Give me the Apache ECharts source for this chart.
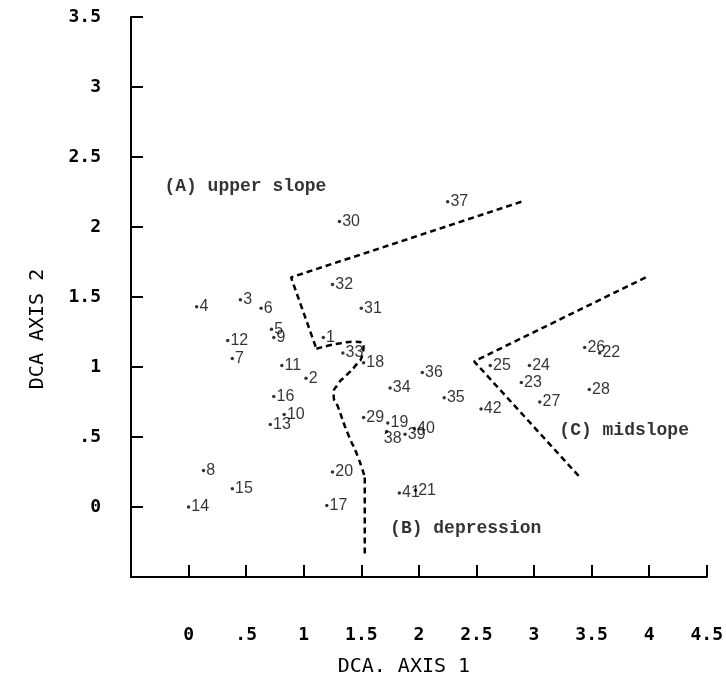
<!DOCTYPE html>
<html>
<head>
<meta charset="utf-8">
<script src="https://cdn.jsdelivr.net/npm/echarts@6/dist/echarts.min.js"></script>
<style>
html, body { margin: 0; padding: 0; background: #fff; }
#chart { width: 726px; height: 686px; }
</style>
</head>
<body>
<div id="chart"></div>
<script>
// site numbers and their DCA scores
var sites = ['1', '2', '3', '4', '5', '6', '7', '8', '9', '10',
    '11', '12', '13', '14', '15', '16', '17', '18', '19', '20',
    '21', '22', '23', '24', '25', '26', '27', '28', '29', '30',
    '31', '32', '33', '34', '35', '36', '37', '38', '39', '40',
    '41', '42'];
var axis1 = [1.17, 1.02, 0.45, 0.07, 0.72, 0.63, 0.38, 0.13, 0.74, 0.83,
    0.81, 0.34, 0.71, 0.00, 0.38, 0.74, 1.20, 1.52, 1.73, 1.25,
    1.97, 3.57, 2.89, 2.96, 2.62, 3.44, 3.05, 3.48, 1.52, 1.31,
    1.50, 1.25, 1.34, 1.75, 2.22, 2.03, 2.25, 1.72, 1.88, 1.96,
    1.83, 2.54];
var axis2 = [1.21, 0.92, 1.48, 1.43, 1.27, 1.42, 1.06, 0.26, 1.21, 0.66,
    1.01, 1.19, 0.59, 0.00, 0.13, 0.79, 0.01, 1.03, 0.60, 0.25,
    0.12, 1.10, 0.89, 1.01, 1.01, 1.14, 0.75, 0.84, 0.64, 2.04,
    1.42, 1.59, 1.10, 0.85, 0.78, 0.96, 2.18, 0.54, 0.52, 0.56,
    0.10, 0.70];

var xTickLabels = ['0', '.5', '1', '1.5', '2', '2.5', '3', '3.5', '4', '4.5'];
var yTickLabels = ['0', '.5', '1', '1.5', '2', '2.5', '3', '3.5'];

// boundaries between the groups (axis units)
var boundaryABupper = [[2.89, 2.18], [0.89, 1.64], [1.11, 1.13]];
var boundaryABcurve = [[1.11, 1.13], [1.20, 1.15], [1.32, 1.17], [1.44, 1.18], [1.52, 1.15],
    [1.51, 1.09], [1.45, 1.01], [1.37, 0.94], [1.30, 0.88], [1.26, 0.80],
    [1.30, 0.71], [1.38, 0.53], [1.47, 0.36], [1.53, 0.21]];
var boundaryABlower = [[1.53, 0.21], [1.53, -0.34]];
var boundaryC = [[3.97, 1.64], [2.48, 1.04], [3.39, 0.22]];

var regionNames = ['(A) upper slope', '(B) depression', '(C) midslope'];
var regionX = [-0.21, 1.75, 3.22];
var regionY = [2.29, -0.15, 0.55];

var points = [];
for (var i = 0; i < sites.length; i++) {
    var p = { name: sites[i], value: [axis1[i], axis2[i]] };
    if (sites[i] == '38') {
        p.label = { position: 'bottom', distance: -3, offset: [6, 0] };
    }
    points.push(p);
}

var regions = [];
for (var j = 0; j < regionNames.length; j++) {
    regions.push({ name: regionNames[j], value: [regionX[j], regionY[j]] });
}

function tickText(list) {
    return function (v) {
        if (v < 0) return '';
        var k = Math.round(v / 0.5);
        return list[k] || '';
    };
}

var dashStyle = { color: '#000', width: 2.5, type: [6, 4] };

function boundary(data, smooth) {
    return {
        type: 'line',
        data: data,
        smooth: smooth,
        symbol: 'none',
        silent: true,
        lineStyle: dashStyle,
        z: 1
    };
}

var axisFont = { color: '#000', fontFamily: 'DejaVu Sans Mono', fontSize: 18, fontWeight: 'bold' };

var option = {
    animation: false,
    backgroundColor: '#fff',
    grid: { left: 131, right: 15, top: 17, bottom: 109 },
    xAxis: {
        type: 'value',
        min: -0.5,
        max: 4.5,
        interval: 0.5,
        splitLine: { show: false },
        axisLine: { onZero: false, lineStyle: { color: '#000', width: 2 } },
        axisTick: { inside: true, length: 12, lineStyle: { color: '#000', width: 2 } },
        axisLabel: Object.assign({ margin: 49, formatter: tickText(xTickLabels) }, axisFont),
        name: 'DCA. AXIS 1',
        nameLocation: 'middle',
        nameGap: 80,
        nameTextStyle: { color: '#000', fontFamily: 'DejaVu Sans Mono', fontSize: 20, padding: [0, 30, 0, 0] }
    },
    yAxis: {
        type: 'value',
        min: -0.5,
        max: 3.5,
        interval: 0.5,
        splitLine: { show: false },
        axisLine: { onZero: false, lineStyle: { color: '#000', width: 2 } },
        axisTick: { inside: true, length: 12, lineStyle: { color: '#000', width: 2 } },
        axisLabel: Object.assign({ margin: 30, formatter: tickText(yTickLabels) }, axisFont),
        name: 'DCA AXIS 2',
        nameLocation: 'middle',
        nameRotate: 90,
        nameGap: 83,
        nameTextStyle: { color: '#000', fontFamily: 'DejaVu Sans Mono', fontSize: 20, padding: [0, 64, 0, 0] }
    },
    series: [
        boundary(boundaryABupper, false),
        boundary(boundaryABcurve, 0.7),
        boundary(boundaryABlower, false),
        boundary(boundaryC, false),
        {
            type: 'scatter',
            data: points,
            symbol: 'circle',
            symbolSize: 3.5,
            itemStyle: { color: '#000' },
            label: {
                show: true,
                position: 'right',
                distance: 1,
                formatter: '{b}',
                color: '#000',
                fontFamily: 'Liberation Sans',
                fontSize: 16
            },
            z: 3
        },
        {
            type: 'scatter',
            data: regions,
            symbolSize: 0,
            silent: true,
            label: {
                show: true,
                position: 'right',
                distance: 0,
                formatter: '{b}',
                color: '#000',
                fontFamily: 'Liberation Mono',
                fontWeight: 'bold',
                fontSize: 18
            },
            z: 3
        }
    ]
};

var myChart = echarts.init(document.getElementById('chart'));
myChart.setOption(option);
</script>
</body>
</html>
